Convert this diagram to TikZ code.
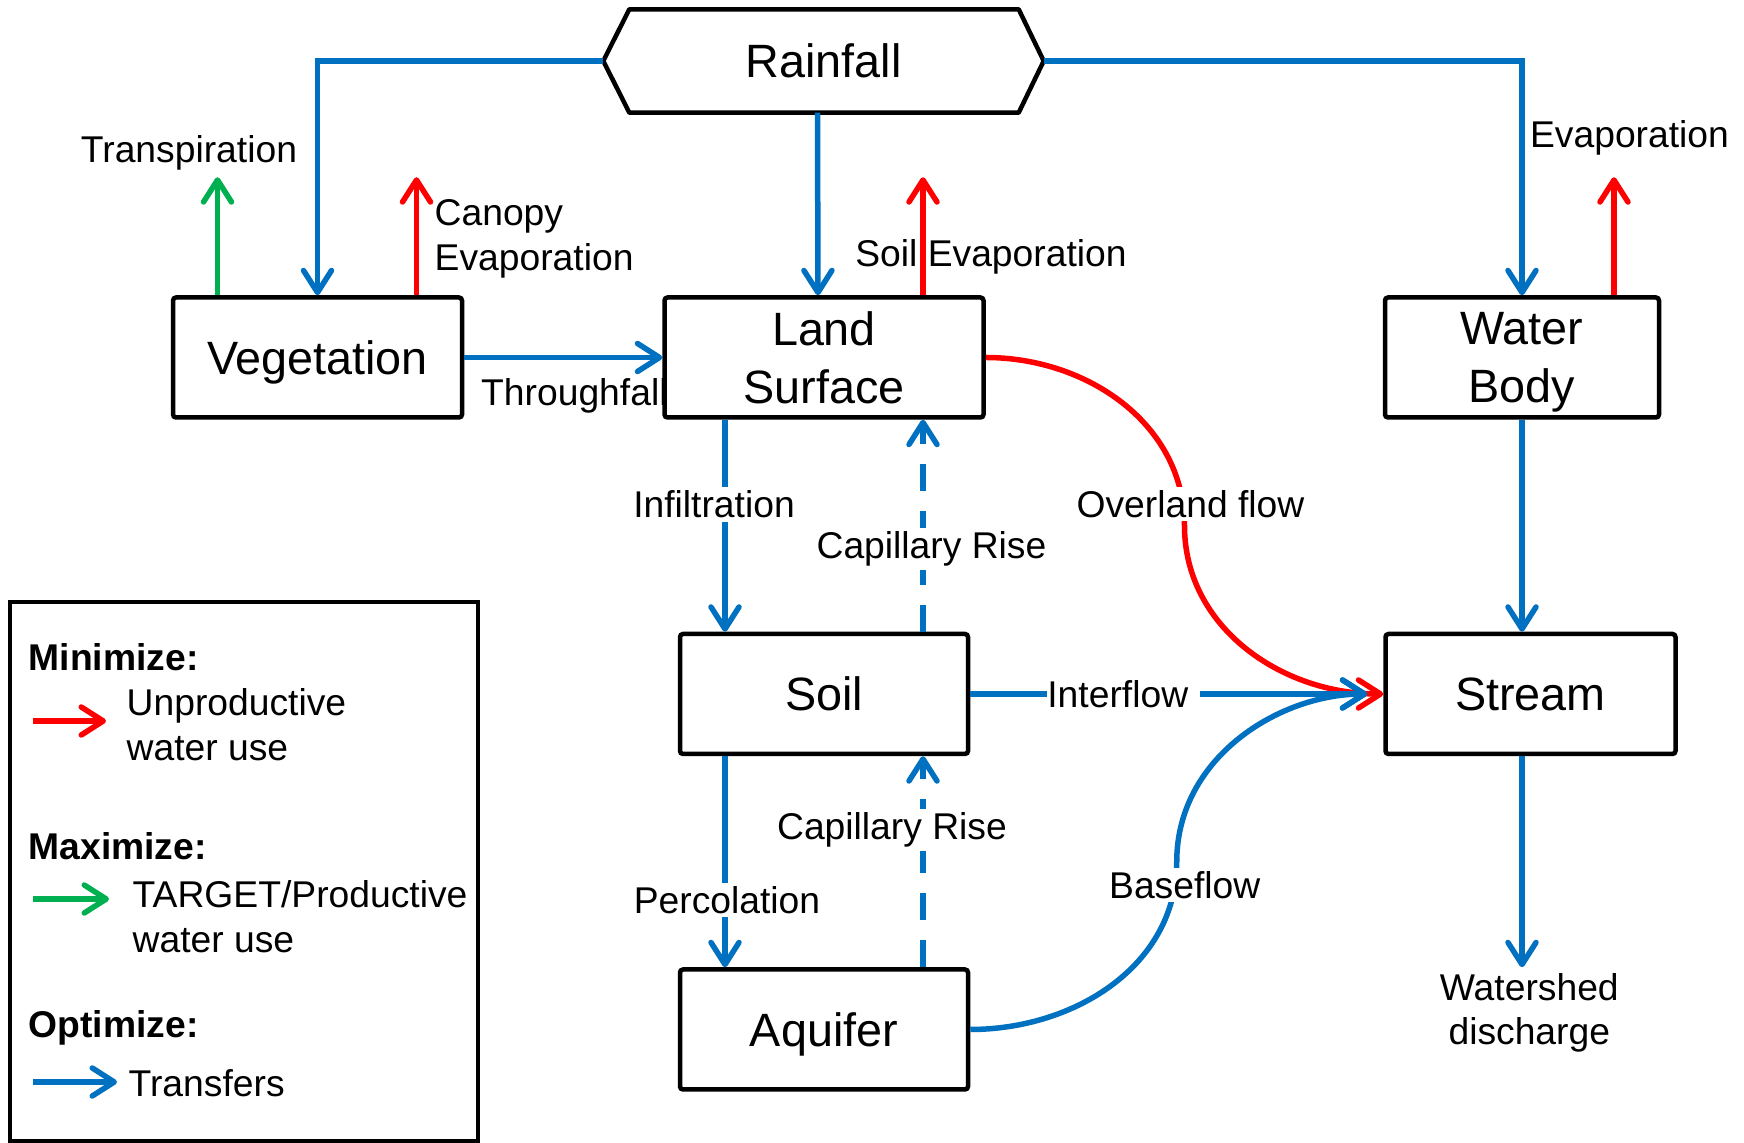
\documentclass[tikz,border=0pt]{standalone}
\usepackage{fontspec}
\setmainfont{Liberation Sans}
\usetikzlibrary{arrows.meta, positioning, calc, backgrounds}
\definecolor{flowblue}{RGB}{0,112,192}
\definecolor{lossred}{RGB}{255,0,0}
\definecolor{gaingreen}{RGB}{0,176,80}
\tikzset{
    storebox/.style={rectangle, draw=black, line width=0.45mm, fill=white, rounded corners=0.3mm, font=\fontsize{13.3}{16.4}\selectfont, align=center, minimum height=12mm, inner sep=0pt, text depth=0pt},
    barb/.style={-{Straight Barb[length=2.2mm,width=2.8mm,round]}},
    bluearr/.style={barb, draw=flowblue, line width=0.55mm},
    redarr/.style={barb, draw=lossred, line width=0.55mm},
    greenarr/.style={barb, draw=gaingreen, line width=0.55mm},
    caparr/.style={bluearr, dash pattern=on 2.7mm off 2mm},
    lbl/.style={font=\fontsize{10.6}{12.7}\selectfont, inner sep=1pt, align=center},
    cutlbl/.style={lbl, fill=white},
    keytext/.style={lbl, inner sep=0pt, anchor=west, align=left},
    keyhead/.style={keytext, font=\fontsize{10.6}{12.7}\selectfont\bfseries},
}
\begin{document}
\begin{tikzpicture}[x=0.1mm, y=-0.1mm]
\useasboundingbox (0,0) rectangle (1744,1143);

% Throughfall label sits partly under the land box
\begin{scope}[on background layer]
\node[keytext] (thru) at (480.5,396) {Throughfall};
\end{scope}

% Stores
\node[storebox, minimum width=31.9mm] (land) at (824,357.5) {Land\\Surface};
\node[storebox, minimum width=28.9mm, left=19.8mm of land] (veg) {Vegetation};
\node[storebox, minimum width=27.4mm, right=39.7mm of land] (water) {Water\\Body};
\node[storebox, minimum width=28.8mm, below=21.2mm of land] (soil) {Soil};
\node[storebox, minimum width=28.8mm, below=21.1mm of soil] (aquifer) {Aquifer};
\node[storebox, minimum width=29mm, right=41.3mm of soil] (stream) {Stream};

% Rainfall hexagon
\node[font=\fontsize{13.3}{16.4}\selectfont, minimum width=43.9mm, minimum height=10.2mm, inner sep=0pt] (rain) at (823.5,61) {Rainfall};
\draw[line width=0.45mm, line join=round] (rain.west) -- ([xshift=2.6mm]rain.north west) -- ([xshift=-2.5mm]rain.north east) -- (rain.east) -- ([xshift=-2.5mm]rain.south east) -- ([xshift=2.6mm]rain.south west) -- cycle;

% Rainfall split
\draw[bluearr] (rain.west) -| (veg.north);
\draw[bluearr] (rain.east) -| (water.north);
\draw[bluearr] ([xshift=-0.6mm]rain.south) -- ([xshift=-0.6mm]land.north);

% Losses to the atmosphere
\coordinate (transtip) at ([xshift=-10mm,yshift=11.8mm]veg.north);
\coordinate (canopytip) at ([xshift=9.9mm,yshift=11.8mm]veg.north);
\coordinate (soilevtip) at ([xshift=9.9mm,yshift=11.8mm]land.north);
\coordinate (waterevtip) at ([xshift=9.2mm,yshift=11.8mm]water.north);
\draw[greenarr] ([xshift=-10mm]veg.north) -- (transtip);
\draw[redarr] ([xshift=9.9mm]veg.north) -- (canopytip);
\draw[redarr] ([xshift=9.9mm]land.north) -- (soilevtip);
\draw[redarr] ([xshift=9.2mm]water.north) -- (waterevtip);
\node[lbl] (transp) at (189,153) {Transpiration};
\node[keytext] (canopy) at (434,239) {Canopy\\Evaporation};
\node[lbl] (soilev) at (991,257) {Soil Evaporation};
\node[lbl] (waterev) at (1629.5,138) {Evaporation};

% Vertical transfers
\draw[bluearr] (veg.east) -- (land.west);
\draw[bluearr] ([xshift=-9.9mm]land.south) -- node[cutlbl, pos=.4, xshift=-1.1mm]{Infiltration} ([xshift=-9.9mm]soil.north);
\draw[caparr] ([xshift=9.9mm]soil.north) -- node[cutlbl, pos=.39, xshift=0.85mm]{Capillary Rise} ([xshift=9.9mm]land.south);
\draw[bluearr] ([xshift=-9.9mm]soil.south) -- node[cutlbl, pos=.68, xshift=0.2mm]{Percolation} ([xshift=-9.9mm]aquifer.north);
\draw[caparr] ([xshift=9.9mm]aquifer.north) -- node[cutlbl, pos=.65, xshift=-3.1mm]{Capillary Rise} ([xshift=9.9mm]soil.south);

% Flows to the stream
\draw[redarr] (land.east) to[out=0,in=90] ($(land.east)!.5!(stream.west)$) node[cutlbl, xshift=0.6mm, yshift=2.2mm]{Overland flow} to[out=-90,in=180] (stream.west);
\draw[bluearr, shorten >=1.6mm] (soil.east) -- node[cutlbl, pos=.372, inner sep=0pt, text width=15.3mm, align=left]{Interflow} (stream.west);
\draw[bluearr, shorten >=1.6mm] (aquifer.east) to[out=0,in=-90] ($(aquifer.east)!.5!(stream.west)$) node[cutlbl, xshift=0.8mm, yshift=-2.3mm]{Baseflow} to[out=90,in=180] (stream.west);
\draw[bluearr] (water.south) -- (water.south |- stream.north);

% Outlet
\coordinate (outbase) at (water.south |- stream.south);
\coordinate (outlet) at ([yshift=-21.1mm]outbase);
\draw[bluearr] (outbase) -- (outlet);
\node[lbl] (discharge) at (1529.3,1013) {Watershed\\discharge};

% Legend
\node[draw, line width=0.45mm, minimum width=46.8mm, minimum height=53.9mm] (legend) at (244,871.5) {};
\node[keyhead] (minhead) at (28,657) {Minimize:};
\node[keytext] (minkey) at (126,725) {Unproductive\\water use};
\node[keyhead] (maxhead) at (28,846) {Maximize:};
\node[keytext] (maxkey) at (132,916.5) {TARGET/Productive\\water use};
\node[keyhead] (opthead) at (28,1028) {Optimize:};
\node[keytext] (optkey) at (128,1083) {Transfers};
\coordinate (mina) at (33,721);
\coordinate (minb) at (106,721);
\coordinate (maxa) at (33,899);
\coordinate (maxb) at (109,899);
\coordinate (opta) at (33,1082);
\coordinate (optb) at (117,1082);
\draw[redarr] (mina) -- (minb);
\draw[greenarr] (maxa) -- (maxb);
\draw[bluearr] (opta) -- (optb);
\end{tikzpicture}
\end{document}
